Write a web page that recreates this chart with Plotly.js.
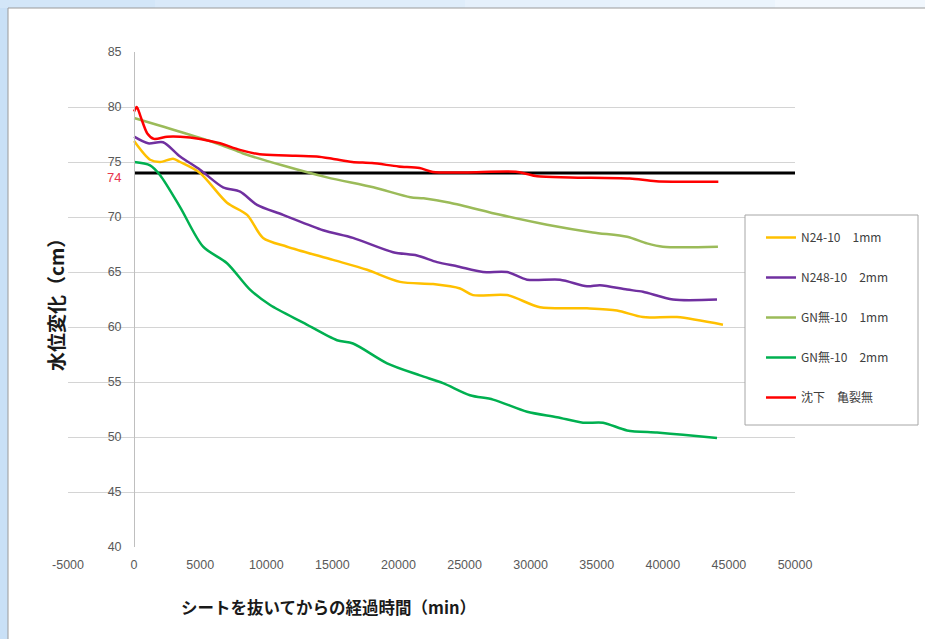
<!DOCTYPE html>
<html>
<head>
<meta charset="utf-8">
<script src="https://cdn.plot.ly/plotly-3.0.1.min.js"></script>
<style>
  html, body { margin: 0; padding: 0; background: #cfe3f7; }
  #chart { width: 925px; height: 639px; }
</style>
</head>
<body>
<div id="chart"></div>
<script>
// Elapsed time after removing the sheet (min) and water level (cm)
const n24_1mm_t = [0, 1210, 1970, 2950, 3480, 4990, 7030, 8550, 9760, 11570, 15050, 17620, 20120, 22620, 24660, 25640, 28210, 30710, 34260, 36530, 38500, 41070, 44550];
const n24_1mm_v = [76.9, 75.2, 75.0, 75.3, 75.0, 74.0, 71.3, 70.2, 68.1, 67.3, 66.1, 65.2, 64.1, 63.9, 63.5, 62.9, 62.9, 61.8, 61.7, 61.5, 60.9, 60.9, 60.2];

const n248_2mm_t = [0, 1060, 2190, 3480, 4990, 6730, 8020, 9300, 11270, 14300, 16560, 19590, 21400, 22920, 24500, 26400, 28210, 29730, 32220, 34260, 35250, 37290, 38500, 40770, 44100];
const n248_2mm_v = [77.3, 76.7, 76.8, 75.5, 74.3, 72.7, 72.3, 71.1, 70.2, 68.8, 68.1, 66.8, 66.5, 65.9, 65.5, 65.0, 65.0, 64.3, 64.3, 63.7, 63.8, 63.4, 63.2, 62.5, 62.5];

const gn_1mm_t = [0, 3600, 6700, 8200, 11200, 14600, 18100, 20900, 21900, 23900, 27700, 31240, 34700, 37300, 38800, 40000, 44170];
const gn_1mm_v = [79.0, 77.7, 76.5, 75.8, 74.7, 73.6, 72.7, 71.8, 71.7, 71.3, 70.2, 69.3, 68.6, 68.2, 67.6, 67.3, 67.3];

const gn_2mm_t = [0, 1210, 1970, 3480, 5220, 7030, 8770, 10290, 12790, 15350, 16560, 19140, 21630, 23370, 25410, 27160, 29730, 32000, 33960, 35480, 37290, 39560, 41530, 44100];
const gn_2mm_v = [75.0, 74.7, 73.8, 70.9, 67.3, 65.8, 63.4, 62.0, 60.4, 58.8, 58.5, 56.7, 55.6, 54.9, 53.8, 53.4, 52.3, 51.8, 51.3, 51.3, 50.6, 50.4, 50.2, 49.9];

const settle_t = [0, 200, 500, 1000, 1500, 2500, 3500, 5000, 6500, 8000, 9500, 11500, 13800, 15000, 16500, 18000, 20000, 21600, 22600, 25000, 29000, 30500, 33000, 37500, 39500, 44200];
const settle_v = [79.6, 80.0, 79.1, 77.6, 77.1, 77.3, 77.3, 77.1, 76.7, 76.1, 75.7, 75.6, 75.5, 75.3, 75.0, 74.9, 74.6, 74.45, 74.1, 74.05, 74.1, 73.7, 73.6, 73.5, 73.25, 73.2];

// Reference level line
const refLevel = 74;
const refLine_t = [0, 50000];

const seriesNames = ['N24-10\u30001mm', 'N248-10\u30002mm', 'GN無-10\u30001mm', 'GN無-10\u30002mm', '沈下\u3000亀裂無'];
const seriesColors = ['#FFC000', '#7030A0', '#9BBB59', '#00B050', '#FF0000'];

const xTickVals = [-5000, 0, 5000, 10000, 15000, 20000, 25000, 30000, 35000, 40000, 45000, 50000];
const xTickText = ['-5000', '0', '5000', '10000', '15000', '20000', '25000', '30000', '35000', '40000', '45000', '50000'];
const yTickVals = [40, 45, 50, 55, 60, 65, 70, 75, 80, 85];

const tickFont = {family: 'Liberation Sans, Arial, sans-serif', size: 12.5, color: '#595959'};
const cjk = '"Noto Sans CJK JP", "Liberation Sans", sans-serif';

const seriesT = [n24_1mm_t, n248_2mm_t, gn_1mm_t, gn_2mm_t, settle_t];
const seriesV = [n24_1mm_v, n248_2mm_v, gn_1mm_v, gn_2mm_v, settle_v];

const traces = [{
  x: refLine_t, y: refLine_t.map(() => refLevel),
  mode: 'lines', line: {color: '#000000', width: 3},
  showlegend: false, hoverinfo: 'skip'
}];
seriesNames.forEach((name, i) => {
  traces.push({
    x: seriesT[i], y: seriesV[i], name: name, legendgroup: 'g' + i,
    mode: 'lines',
    line: {color: seriesColors[i], width: 2.5, shape: 'spline', smoothing: 0.8}
  });
});

// pixel helpers for the plot frame (left 68, right 795, top 52, bottom 547)
const px = v => (v - 68) / 727;
const py = v => (547 - v) / 495;

// top strip shading, fading to the right
const stripColors = ['#d3e6f8', '#d9e9f9', '#dfedfa', '#e5f0fb', '#ebf4fc', '#f1f7fd'];
const stripShapes = stripColors.map((c, i) => ({
  type: 'rect', xref: 'paper', yref: 'paper',
  x0: px(i * 155), x1: px((i + 1) * 155), y0: py(8), y1: py(0),
  fillcolor: c, line: {width: 0}, layer: 'below'
}));

const layout = {
  width: 925, height: 639,
  margin: {l: 68, r: 130, t: 52, b: 92},
  paper_bgcolor: '#c9e0f6',
  plot_bgcolor: 'rgba(0,0,0,0)',
  showlegend: true,
  legend: {
    x: px(761), y: py(223), xanchor: 'left', yanchor: 'top',
    bgcolor: 'rgba(0,0,0,0)', borderwidth: 0,
    traceorder: 'grouped', tracegroupgap: 21,
    font: {family: cjk, size: 12, color: '#404040'},
    itemwidth: 30
  },
  xaxis: {
    range: [-5000, 50000], tickvals: xTickVals, ticktext: xTickText,
    showgrid: false, zeroline: false, showline: false,
    ticks: '', ticklabelstandoff: 8, tickfont: tickFont, fixedrange: true
  },
  yaxis: {
    range: [40, 85], tickvals: yTickVals,
    anchor: 'free', position: 5000 / 55000,
    showgrid: true, gridcolor: '#d4d4d4', gridwidth: 1,
    zeroline: false, showline: true, linecolor: '#bfbfbf', linewidth: 1,
    ticks: '', ticklabelstandoff: 10, tickfont: tickFont, fixedrange: true
  },
  shapes: stripShapes.concat([
    // white panel
    {type: 'rect', xref: 'paper', yref: 'paper', x0: px(8), x1: px(940), y0: py(660), y1: py(8),
     fillcolor: '#ffffff', line: {color: '#9a9a9a', width: 1}, layer: 'below'},
    // legend frame
    {type: 'rect', xref: 'paper', yref: 'paper', x0: px(745), x1: px(918), y0: py(425), y1: py(215),
     fillcolor: '#ffffff', line: {color: '#a6a6a6', width: 1}, layer: 'above'}
  ]),
  annotations: [
    {text: String(refLevel), xref: 'x', yref: 'y', x: 0, y: refLevel, xanchor: 'right', yanchor: 'middle',
     xshift: -11, yshift: -4, showarrow: false, font: {family: 'Liberation Sans, Arial, sans-serif', size: 13, color: '#e8364e'}},
    {text: '水位変化（cm）', xref: 'paper', yref: 'paper', x: px(55), y: py(300), textangle: -90,
     xanchor: 'center', yanchor: 'middle', showarrow: false,
     font: {family: cjk, size: 19, color: '#1a1a1a', weight: 'bold'}},
    {text: 'シートを抜いてからの経過時間（min）', xref: 'paper', yref: 'paper', x: px(328), y: py(607),
     xanchor: 'center', yanchor: 'middle', showarrow: false,
     font: {family: cjk, size: 16.5, color: '#1a1a1a', weight: 'bold'}}
  ]
};

Plotly.newPlot('chart', traces, layout, {displayModeBar: false, staticPlot: true});
</script>
</body>
</html>
